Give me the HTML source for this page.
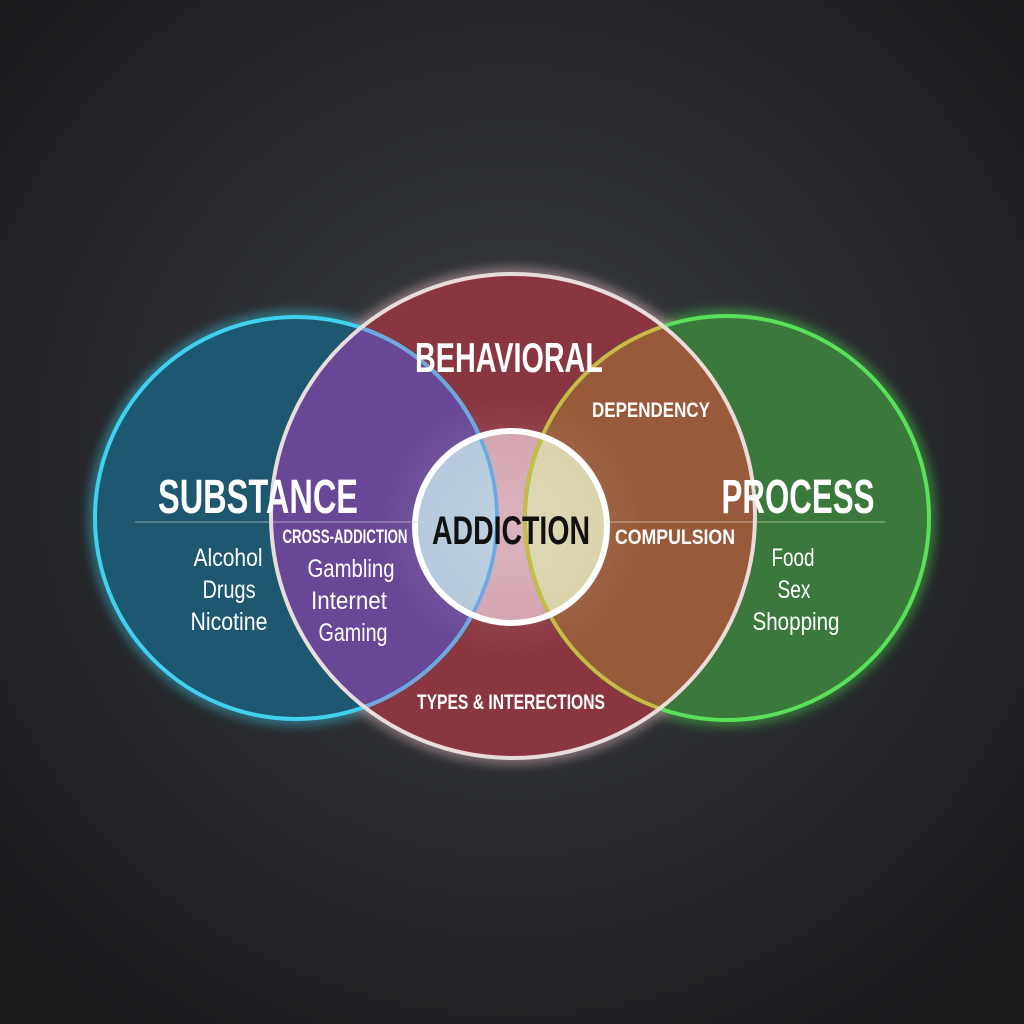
<!DOCTYPE html>
<html><head><style>
html,body{margin:0;padding:0;background:#1c1d1f}
svg{display:block}
text{font-family:"Liberation Sans Narrow","Liberation Sans",sans-serif;font-weight:bold;fill:#fff}
.r{font-weight:normal}
</style></head><body>
<svg width="1024" height="1024" viewBox="0 0 1024 1024" xmlns="http://www.w3.org/2000/svg">
<defs>
<radialGradient id="bg" cx="50%" cy="45%" r="70%">
<stop offset="0" stop-color="#3b3e43"/><stop offset="1" stop-color="#18191b"/>
</radialGradient>
<radialGradient id="glow" cx="50%" cy="50%" r="50%">
<stop offset="0" stop-color="#fff" stop-opacity="0.6"/><stop offset="1" stop-color="#fff" stop-opacity="0"/>
</radialGradient>
<clipPath id="cR"><circle cx="513" cy="516" r="242"/></clipPath>
<clipPath id="cM"><circle cx="511" cy="527" r="96"/></clipPath>
<filter id="bl" x="-20%" y="-20%" width="140%" height="140%"><feGaussianBlur stdDeviation="6"/></filter>
</defs>
<rect width="1024" height="1024" fill="url(#bg)"/>
<g filter="url(#bl)" fill="none" stroke-width="8" opacity="0.7">
<circle cx="296" cy="518" r="201" stroke="#3cd4f5"/>
<circle cx="727" cy="518" r="202" stroke="#50e850"/>
<circle cx="513" cy="516" r="242" stroke="#ffd0d8"/>
</g>
<circle cx="296" cy="518" r="201" fill="#1e5870"/>
<circle cx="727" cy="518" r="202" fill="#3a783c"/>
<circle cx="513" cy="516" r="242" fill="#8a3640"/>
<g clip-path="url(#cR)"><circle cx="296" cy="518" r="201" fill="#684896"/></g>
<g clip-path="url(#cR)"><circle cx="727" cy="518" r="202" fill="#985a3a"/></g>
<circle cx="511" cy="527" r="96" fill="#d2a0ac"/>
<g clip-path="url(#cM)">
<circle cx="296" cy="518" r="201" fill="#b0c6da"/>
<circle cx="727" cy="518" r="202" fill="#d8d0a6"/>
</g>
<circle cx="511" cy="527" r="130" fill="url(#glow)" opacity="0.35"/>
<circle cx="296" cy="518" r="201" fill="none" stroke="#40d0f0" stroke-width="4"/>
<circle cx="727" cy="518" r="202" fill="none" stroke="#5ae05a" stroke-width="4"/>
<g clip-path="url(#cR)">
<circle cx="296" cy="518" r="201" fill="none" stroke="#7aa0e0" stroke-width="3"/>
<circle cx="727" cy="518" r="202" fill="none" stroke="#e0b040" stroke-width="3"/>
</g>
<circle cx="513" cy="516" r="242" fill="none" stroke="#e8dcdc" stroke-width="4"/>
<circle cx="511" cy="527" r="96" fill="none" stroke="#ffffff" stroke-width="6"/>
<line x1="135" y1="522" x2="425" y2="522" stroke="#cfd8e0" stroke-width="1" opacity="0.6"/>
<line x1="605" y1="522" x2="885" y2="522" stroke="#e0e0d0" stroke-width="1" opacity="0.6"/>
<text x="509" y="372" font-size="42" text-anchor="middle" textLength="188" lengthAdjust="spacingAndGlyphs">BEHAVIORAL</text>
<text x="651" y="417" font-size="21" text-anchor="middle" textLength="118" lengthAdjust="spacingAndGlyphs">DEPENDENCY</text>
<text x="258" y="513" font-size="48" text-anchor="middle" textLength="200" lengthAdjust="spacingAndGlyphs">SUBSTANCE</text>
<text x="798" y="513" font-size="48" text-anchor="middle" textLength="153" lengthAdjust="spacingAndGlyphs">PROCESS</text>
<text x="511" y="544" font-size="40" text-anchor="middle" textLength="158" lengthAdjust="spacingAndGlyphs" style="fill:#111">ADDICTION</text>
<text x="345" y="543" font-size="19" text-anchor="middle" textLength="125" lengthAdjust="spacingAndGlyphs">CROSS-ADDICTION</text>
<text x="675" y="544" font-size="21" text-anchor="middle" textLength="120" lengthAdjust="spacingAndGlyphs">COMPULSION</text>
<text x="511" y="709" font-size="21" text-anchor="middle" textLength="188" lengthAdjust="spacingAndGlyphs">TYPES &amp; INTERECTIONS</text>
<g font-size="25" text-anchor="middle">
<text class="r" x="228" y="566" textLength="69" lengthAdjust="spacingAndGlyphs">Alcohol</text>
<text class="r" x="229" y="598" textLength="53" lengthAdjust="spacingAndGlyphs">Drugs</text>
<text class="r" x="229" y="630" textLength="77" lengthAdjust="spacingAndGlyphs">Nicotine</text>
<text class="r" x="351" y="577" textLength="87" lengthAdjust="spacingAndGlyphs">Gambling</text>
<text class="r" x="349" y="609" textLength="76" lengthAdjust="spacingAndGlyphs">Internet</text>
<text class="r" x="353" y="641" textLength="69" lengthAdjust="spacingAndGlyphs">Gaming</text>
<text class="r" x="793" y="566" textLength="43" lengthAdjust="spacingAndGlyphs">Food</text>
<text class="r" x="794" y="598" textLength="33" lengthAdjust="spacingAndGlyphs">Sex</text>
<text class="r" x="796" y="630" textLength="87" lengthAdjust="spacingAndGlyphs">Shopping</text>
</g>
</svg>
</body></html>
